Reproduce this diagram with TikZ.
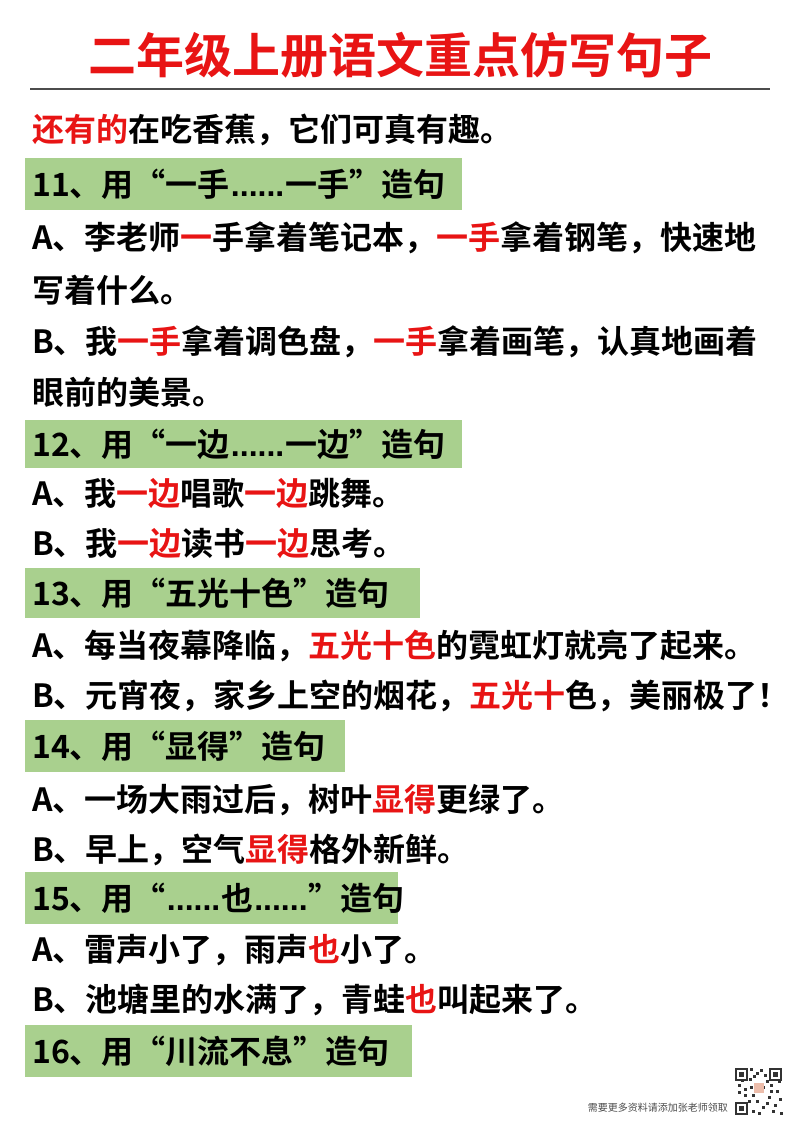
\documentclass[tikz,border=0pt]{standalone}
\usepackage{fontspec}
\setmainfont{Noto Sans CJK SC}[BoldFont={* Bold}]
\newfontfamily\lat{Liberation Sans}
\definecolor{rd}{RGB}{232,20,20}
\definecolor{gr}{RGB}{169,208,142}
\newcommand{\R}[1]{\textcolor{rd}{#1}}
\newcommand{\dd}{{\lat\kern1pt......\kern1pt}}
\begin{document}
\begin{tikzpicture}[x=1pt,y=-1pt,
  ln/.style={anchor=west,inner sep=0pt,font=\fontsize{32}{36}\selectfont\bfseries},
  bar/.style={fill=gr,draw=none}]
\useasboundingbox[fill=white] (0,0) rectangle (800,1132);
\node[inner sep=0pt,text=rd,font=\fontsize{48}{52}\selectfont\bfseries] (title) at (400,55) {二年级上册语文重点仿写句子};
\draw[line width=1.5pt,black!70] (30,89) -- (770,89);
\fill[bar] (25,158) rectangle (462,210);
\fill[bar] (25,420) rectangle (462,468);
\fill[bar] (25,568) rectangle (420,618);
\fill[bar] (25,720) rectangle (345,772);
\fill[bar] (25,872) rectangle (398,924);
\fill[bar] (25,1025) rectangle (412,1077);
\node[ln] (l1) at (32,130) {\R{还有的}在吃香蕉，它们可真有趣。};
\node[ln] (h11) at (32,184) {11、用“一手\dd 一手”造句};
\node[ln] (a11) at (32,238) {A、李老师\R{一}手拿着笔记本，\R{一手}拿着钢笔，快速地};
\node[ln] (a11b) at (32,290) {写着什么。};
\node[ln] (b11) at (32,342) {B、我\R{一手}拿着调色盘，\R{一手}拿着画笔，认真地画着};
\node[ln] (b11b) at (32,392) {眼前的美景。};
\node[ln] (h12) at (32,444) {12、用“一边\dd 一边”造句};
\node[ln] (a12) at (32,493) {A、我\R{一边}唱歌\R{一边}跳舞。};
\node[ln] (b12) at (32,543) {B、我\R{一边}读书\R{一边}思考。};
\node[ln] (h13) at (32,593) {13、用“五光十色”造句};
\node[ln] (a13) at (32,646) {A、每当夜幕降临，\R{五光十色}的霓虹灯就亮了起来。};
\node[ln] (b13) at (32,696) {B、元宵夜，家乡上空的烟花，\R{五光十}色，美丽极了！};
\node[ln] (h14) at (32,746) {14、用“显得”造句};
\node[ln] (a14) at (32,800) {A、一场大雨过后，树叶\R{显得}更绿了。};
\node[ln] (b14) at (32,850) {B、早上，空气\R{显得}格外新鲜。};
\node[ln] (h15) at (32,898) {15、用“\dd 也\dd”造句};
\node[ln] (a15) at (32,950) {A、雷声小了，雨声\R{也}小了。};
\node[ln] (b15) at (32,1000) {B、池塘里的水满了，青蛙\R{也}叫起来了。};
\node[ln] (h16) at (32,1051) {16、用“川流不息”造句};
\node[anchor=east,inner sep=0pt,text=black!70,font=\fontsize{10}{12}\selectfont] (note) at (728,1108) {需要更多资料请添加张老师领取};
% QR code sketch
\begin{scope}[black!80]
\foreach \x/\y in {735/1068,769/1068,735/1102}{
  \draw[line width=1.5pt] (\x+1,\y+1) rectangle (\x+12,\y+12);
  \fill (\x+4,\y+4) rectangle (\x+9,\y+9);}
\foreach \x/\y in {750/1068,756/1072,760/1069,749/1078,738/1084,744/1088,752/1094,762/1086,770/1084,776/1090,768/1096,774/1104,762/1106,752/1110,780/1112,744/1094,756/1100,778/1080,
  753/1075,764/1074,738/1091,741/1079,748/1100,766/1102,772/1110,779/1098,770/1090,758/1112,750/1086,766/1080}{
  \fill (\x,\y) rectangle (\x+3,\y+3);}
\fill[red!30!brown!40] (754,1083) rectangle (764,1093);
\end{scope}
\end{tikzpicture}
\end{document}
